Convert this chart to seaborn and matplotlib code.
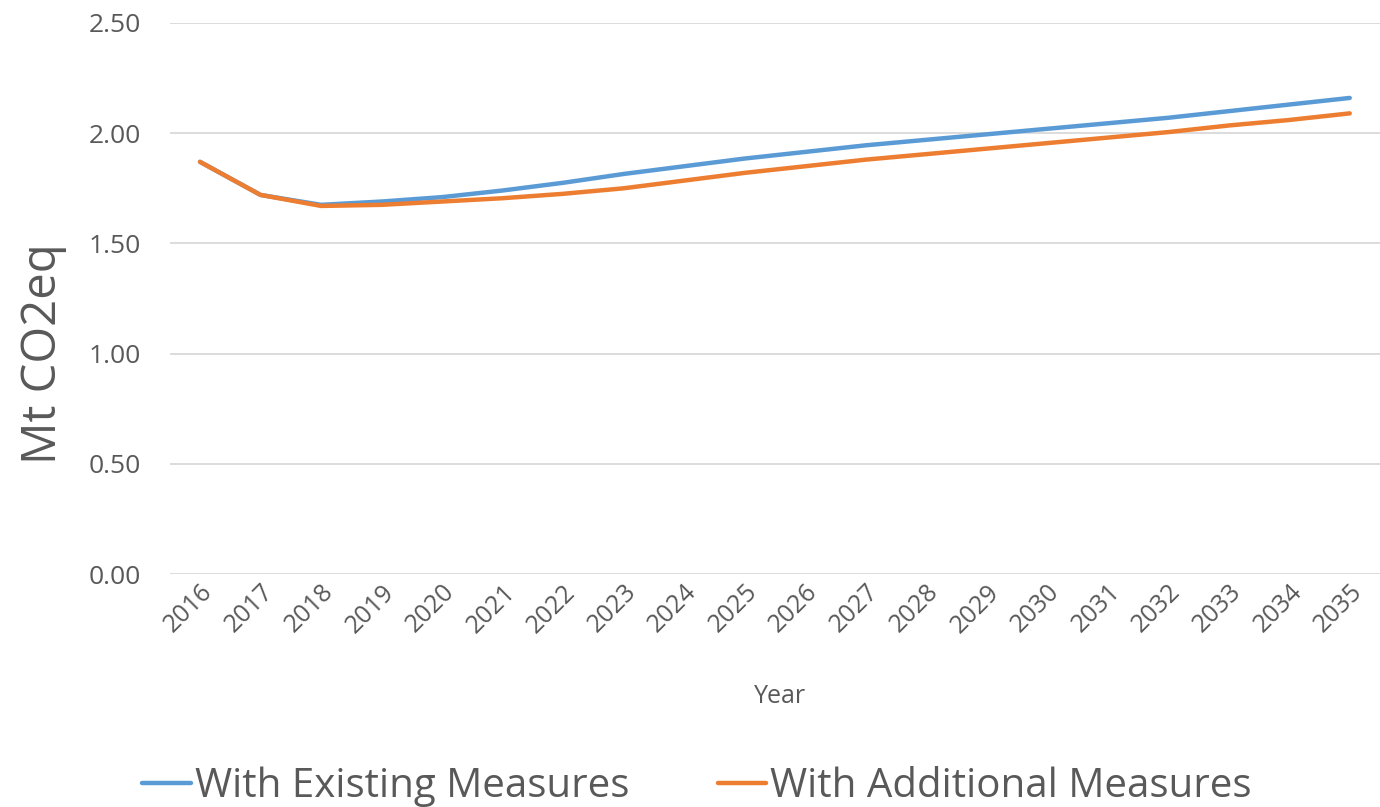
import numpy as np
import pandas as pd
import seaborn as sns
import matplotlib.pyplot as plt

# datos
years = [str(y) for y in range(2016, 2036)]
existing = [1.87, 1.72, 1.675, 1.69, 1.71, 1.74, 1.775, 1.815, 1.85, 1.885,
            1.915, 1.945, 1.97, 1.995, 2.02, 2.045, 2.07, 2.10, 2.13, 2.16]
additional = [1.87, 1.72, 1.67, 1.675, 1.69, 1.705, 1.725, 1.75, 1.785, 1.82,
              1.85, 1.88, 1.905, 1.93, 1.955, 1.98, 2.005, 2.035, 2.06, 2.09]
series_names = ["With Existing Measures", "With Additional Measures"]

df = pd.DataFrame({
    "Year": years * 2,
    "value": existing + additional,
    "serie": [series_names[0]] * len(years) + [series_names[1]] * len(years),
})

sns.set_style("white")
plt.rcParams["font.family"] = ["Open Sans", "DejaVu Sans"]
txt = "#595959"

fig = plt.figure(figsize=(13.8, 8.07), dpi=100)
ax = fig.add_axes([0.123, 0.2887, 0.877, 0.6828])

sns.lineplot(data=df, x="Year", y="value", hue="serie",
             palette=["#5B9BD5", "#ED7D31"], linewidth=3.2,
             solid_capstyle="round", ax=ax, legend=True)

ax.set_ylim(0, 2.5)
ax.set_xlim(-0.5, len(years) - 0.5)
ax.set_yticks(np.arange(0, 2.51, 0.5))
ax.set_yticklabels([f"{v:.2f}" for v in np.arange(0, 2.51, 0.5)])
ax.grid(axis="y", color="#D9D9D9", linewidth=1.3)
ax.set_axisbelow(True)
for s in ax.spines.values():
    s.set_visible(False)

ax.tick_params(axis="y", labelsize=19, colors=txt, length=0, pad=21)
ax.tick_params(axis="x", labelsize=18, colors=txt, length=0, pad=4)
plt.setp(ax.get_xticklabels(), rotation=45, ha="right", rotation_mode="anchor")

ax.set_xlabel("Year", fontsize=18, color=txt)
ax.xaxis.set_label_coords(0.504, -0.20)
ax.set_ylabel("Mt CO2eq", fontsize=34, color=txt)
ax.yaxis.set_label_coords(-0.085, 0.40)

handles, labels = ax.get_legend_handles_labels()
ax.get_legend().remove()
fig.legend(handles, labels, loc="center", bbox_to_anchor=(0.505, 0.025),
           ncol=2, frameon=False, fontsize=29, labelcolor=txt,
           handlelength=1.2, handletextpad=0.1, columnspacing=2.2)

plt.savefig("out.png", dpi=100)
